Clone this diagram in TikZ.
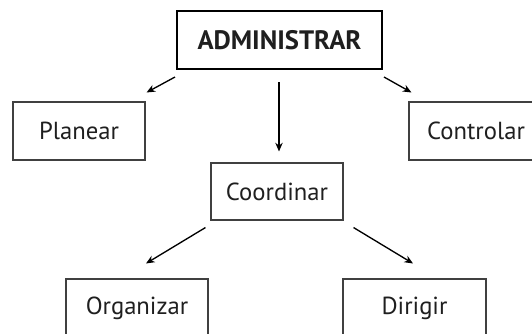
\documentclass[tikz,border=0pt]{standalone}
\usepackage{fontspec}
\setmainfont{PT Sans}
\usetikzlibrary{arrows.meta,calc}
\begin{document}
\begin{tikzpicture}[x=0.75pt,y=-0.75pt,
  box/.style={draw=black!75,line width=0.8pt,inner sep=0pt,text=black!88,
    font=\fontsize{18.5}{22}\selectfont,minimum height=58*0.75pt},
  topbox/.style={box,draw=black,line width=1.5pt,font=\bfseries\fontsize{20}{24}\selectfont},
  arr/.style={line width=1pt,-{Stealth[length=6.5pt,width=5.5pt]}}]
\useasboundingbox (0,0) rectangle (532,333);
% boxes
\node[topbox,minimum width=205*0.75pt] (adm) at (279.5,40) {ADMINISTRAR};
\node[box,minimum width=132*0.75pt] (plan) at (79,131) {Planear};
\node[box,minimum width=134*0.75pt] (ctrl) at (476,131) {Controlar};
\node[box,minimum width=132*0.75pt,minimum height=57*0.75pt] (coord) at (277,191.5) {Coordinar};
\node[box,minimum width=142*0.75pt] (org) at (137,308) {Organizar};
\node[box,minimum width=143*0.75pt] (dir) at (414.5,308) {Dirigir};
% connectors
\draw[arr] ($(adm.south west)+(-1,7)$) -- ($(plan.north east)+(1,-9)$);
\draw[arr] ($(adm.south east)+(1,7)$) -- ($(ctrl.north west)+(3,-9)$);
\draw[arr] ($(adm.south)+(-0.5,12)$) -- ($(coord.north)+(2,-11)$);
\draw[arr] ($(coord.south west)+(-5,7)$) -- ($(org.north)+(9,-15)$);
\draw[arr] ($(coord.south east)+(10,7)$) -- ($(dir.north)+(-1.5,-15)$);
\end{tikzpicture}
\end{document}
